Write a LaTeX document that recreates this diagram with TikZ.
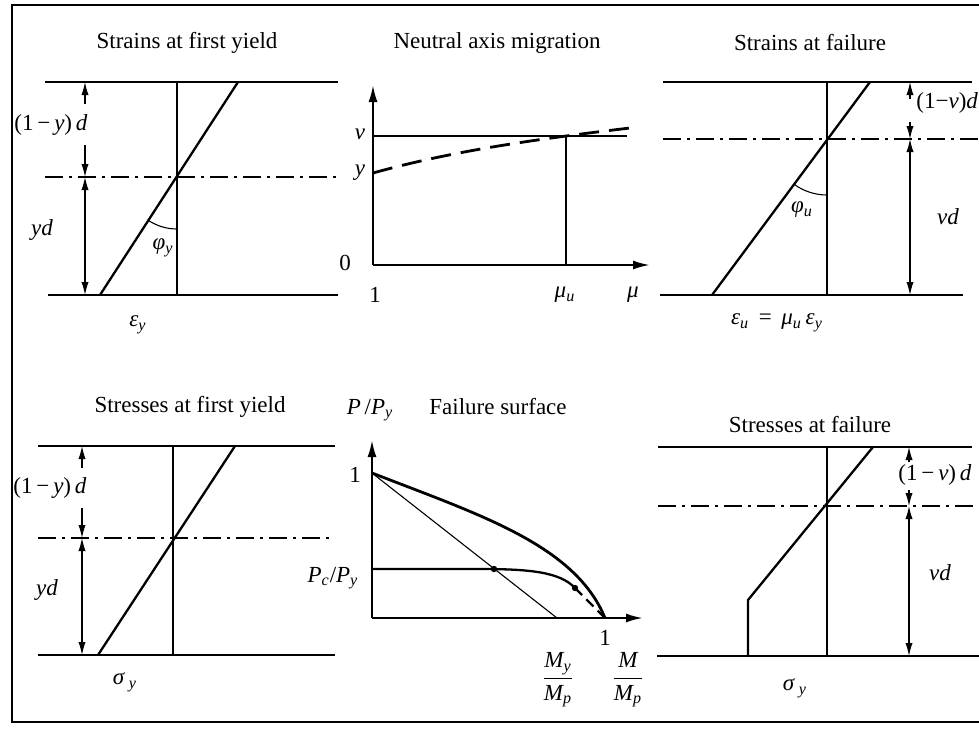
\documentclass[tikz,border=0pt]{standalone}
\usepackage{fontspec}
\setmainfont{Liberation Serif}
\usetikzlibrary{arrows.meta}
\newcommand{\iv}[1]{\textit{#1}}
\newcommand{\sbs}[1]{\textsubscript{\textit{#1}}}
\begin{document}
\begin{tikzpicture}[x=0.5pt,y=-0.5pt,
  bar/.style={line width=1.15pt},
  thinl/.style={line width=0.55pt},
  cl/.style={line width=0.9pt, dash pattern=on 9pt off 3pt on 1.5pt off 3pt},
  dimarrow/.style={line width=0.6pt, -{Latex[length=6.5pt,width=3.6pt]}},
  dimboth/.style={line width=0.6pt, {Latex[length=6.5pt,width=3.6pt]}-{Latex[length=6.5pt,width=3.6pt]}},
  axis/.style={line width=1.1pt, -{Latex[length=8.5pt,width=4.5pt]}},
  ttl/.style={font=\fontsize{11.5}{13}\selectfont, inner sep=0pt},
  lbl/.style={font=\fontsize{11.5}{13}\selectfont, inner sep=0pt}]
\useasboundingbox (0,0) rectangle (979,734);
% frame
\draw[line width=1.2pt] (979,5) -- (12,5) -- (12,722) -- (979,722);

% ---------- Panel 1: strains at first yield
\node[ttl] (t1) at (187,43) {Strains at first yield};
\draw[bar] (45,82) -- (338,82);
\draw[cl] (45,177) -- (338,177);
\draw[bar] (48,295) -- (338,295);
\draw[bar] (177,82) -- (177,295);
\coordinate (c1) at (177,177);
\draw[bar] (100,295) -- (238,82);
\draw[thinl] (c1) ++(236.9:26pt) arc[start angle=236.9, end angle=270, radius=26pt];
\node[lbl] (phy) at (163,248) {\iv{φ}\sbs{y}};
\node[lbl] (ey) at (138,325) {\iv{ε}\sbs{y}};
\coordinate (a1) at (85,82); \coordinate (a1b) at (85,104);
\coordinate (a1c) at (85,145); \coordinate (a1d) at (85,177); \coordinate (a1e) at (85,295);
\draw[dimarrow] (a1b) -- (a1);
\draw[dimarrow] (a1c) -- (a1d);
\draw[dimboth] (a1d) -- (a1e);
\node[lbl] (l1a) at (51,125) {(1\,−\,\iv{y})\,\iv{d}};
\node[lbl] (l1b) at (42,230) {\iv{yd}};

% ---------- Panel 2: neutral axis migration
\node[ttl] (t2) at (497,43) {Neutral axis migration};
\coordinate (o2) at (373,265);
\draw[axis] (o2) -- (373,85);
\draw[axis] (o2) -- (650,265);
\draw[thinl] (373,136) -- (627,136);
\draw[bar] (566,265) -- (566,137);
\draw[line width=1.4pt, dash pattern=on 10pt off 5pt] (373,173) .. controls (445,153) and (520,141) .. (630,128);
\node[lbl] (nu2) at (360,134) {\iv{ν}};
\node[lbl] (y2) at (360,173) {\iv{y}};
\node[lbl] (z2) at (345,263) {0};
\node[lbl] (one2) at (375,295) {1};
\node[lbl] (mu2) at (565,295) {\iv{μ}\sbs{u}};
\node[lbl] (m2) at (633,295) {\iv{μ}};

% ---------- Panel 3: strains at failure
\node[ttl] (t3) at (810,43) {Strains at failure};
\draw[bar] (663,82) -- (972,82);
\draw[cl] (663,139) -- (979,139);
\draw[bar] (660,295) -- (963,295);
\draw[bar] (827,82) -- (827,295);
\coordinate (c3) at (827,139);
\draw[bar] (712,295) -- (870,82);
\draw[thinl] (c3) ++(233.8:28pt) arc[start angle=233.8, end angle=270, radius=28pt];
\node[lbl] (phu) at (802,210) {\iv{φ}\sbs{u}};
\node[lbl] (eu) at (777,323) {\iv{ε}\sbs{u} \,=\, \iv{μ}\sbs{u}\,\iv{ε}\sbs{y}};
\coordinate (a3) at (910,82); \coordinate (a3b) at (910,99);
\coordinate (a3c) at (910,122); \coordinate (a3d) at (910,139); \coordinate (a3e) at (910,295);
\draw[dimarrow] (a3b) -- (a3);
\draw[dimarrow] (a3c) -- (a3d);
\draw[dimboth] (a3d) -- (a3e);
\node[lbl, anchor=west] (l3a) at (916,103) {(1−\iv{ν})\iv{d}};
\node[lbl] (l3b) at (948,217) {\iv{νd}};

% ---------- Panel 4: stresses at first yield
\node[ttl] (t4) at (190,407) {Stresses at first yield};
\draw[bar] (38,446) -- (335,446);
\draw[cl] (38,538) -- (335,538);
\draw[bar] (38,655) -- (335,655);
\draw[bar] (173,446) -- (173,655);
\draw[bar] (98,655) -- (235,446);
\node[lbl] (sy4) at (125,682) {\iv{σ}\,\sbs{y}};
\coordinate (a4) at (82,446); \coordinate (a4b) at (82,468);
\coordinate (a4c) at (82,508); \coordinate (a4d) at (82,538); \coordinate (a4e) at (82,655);
\draw[dimarrow] (a4b) -- (a4);
\draw[dimarrow] (a4c) -- (a4d);
\draw[dimboth] (a4d) -- (a4e);
\node[lbl] (l4a) at (50,488) {(1\,−\,\iv{y})\,\iv{d}};
\node[lbl] (l4b) at (47,590) {\iv{yd}};

% ---------- Panel 5: failure surface
\node[ttl] (t5) at (498,407) {Failure surface};
\node[lbl] (py5) at (370,410) {\iv{P}\,/\iv{P}\sbs{y}};
\coordinate (o5) at (372,618);
\draw[axis] (o5) -- (372,440);
\draw[axis] (o5) -- (643,618);
\coordinate (p1) at (372,473);
\coordinate (m1) at (605,618);
\draw[line width=1.4pt] (p1) .. controls (480,515) and (575,545) .. (m1);
\draw[thinl] (p1) -- (557,618);
\coordinate (q1) at (494,569);
\coordinate (q2) at (575,588);
\draw[bar] (372,569) -- (480,569) .. controls (530,569) and (560,572) .. (q2);
\fill (q1) circle (1.6pt);
\fill (q2) circle (1.6pt);
\draw[bar, dash pattern=on 5pt off 3pt] (q2) -- (m1);
\node[lbl] (one5) at (355,475) {1};
\node[lbl] (pc5) at (333,578) {\iv{P}\sbs{c}/\iv{P}\sbs{y}};
\node[lbl] (one5b) at (605,638) {1};
\node[lbl] (f5a) at (558,680) {$\displaystyle\frac{\mathit{M}_{\mathit{y}}}{\mathit{M}_{\mathit{p}}}$};
\node[lbl] (f5b) at (628,680) {$\displaystyle\frac{\mathit{M}}{\mathit{M}_{\mathit{p}}}$};

% ---------- Panel 6: stresses at failure
\node[ttl] (t6) at (810,425) {Stresses at failure};
\draw[bar] (658,447) -- (972,447);
\draw[cl] (658,506) -- (979,506);
\draw[bar] (657,656) -- (979,656);
\draw[bar] (827,447) -- (827,656);
\draw[bar] (748,656) -- (748,600) -- (873,447);
\node[lbl] (sy6) at (795,688) {\iv{σ}\,\sbs{y}};
\coordinate (a6) at (909,447); \coordinate (a6b) at (909,462);
\coordinate (a6c) at (909,490); \coordinate (a6d) at (909,506); \coordinate (a6e) at (909,656);
\draw[dimarrow] (a6b) -- (a6);
\draw[dimarrow] (a6c) -- (a6d);
\draw[dimboth] (a6d) -- (a6e);
\node[lbl] (l6a) at (935,475) {(1\,−\,\iv{ν})\,\iv{d}};
\node[lbl] (l6b) at (940,573) {\iv{νd}};
\end{tikzpicture}
\end{document}
